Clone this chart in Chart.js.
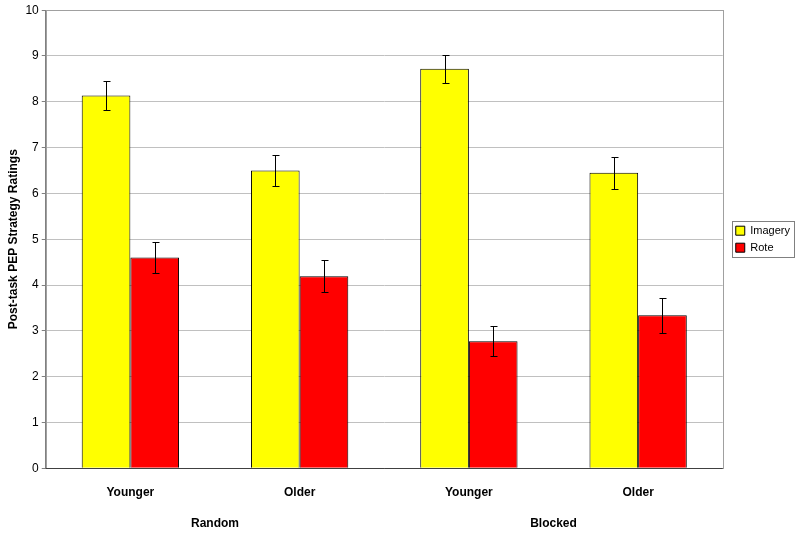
<!DOCTYPE html>
<html>
<head>
<meta charset="utf-8">
<script src="https://cdn.jsdelivr.net/npm/chart.js@4"></script>
<style>
  html, body { margin: 0; padding: 0; background: #fff; }
</style>
</head>
<body>
<canvas id="grafico" width="800" height="536"></canvas>
<script>
// datos
var grupos = ["Younger", "Older", "Younger", "Older"];
var condiciones = ["Random", "Blocked"];
var imagery = [8.14, 6.50, 8.72, 6.45];
var imageryErr = [0.32, 0.34, 0.31, 0.35];
var rote = [4.60, 4.19, 2.77, 3.34];
var roteErr = [0.34, 0.35, 0.33, 0.38];
var yTicks = [0, 1, 2, 3, 4, 5, 6, 7, 8, 9, 10];

var fuente = "'Liberation Sans', Arial, sans-serif";

// barras de error
var barrasError = {
  id: 'barrasError',
  afterDatasetsDraw: function (chart) {
    var ctx = chart.ctx;
    var y = chart.scales.y;
    var errores = [imageryErr, roteErr];
    ctx.save();
    ctx.strokeStyle = "#000";
    ctx.lineWidth = 1;
    chart.data.datasets.forEach(function (ds, d) {
      var meta = chart.getDatasetMeta(d);
      meta.data.forEach(function (bar, i) {
        var x = Math.round(bar.x) + 0.5;
        var top = Math.round(y.getPixelForValue(ds.data[i] + errores[d][i])) + 0.5;
        var bot = Math.round(y.getPixelForValue(ds.data[i] - errores[d][i])) + 0.5;
        ctx.beginPath();
        ctx.moveTo(x, top); ctx.lineTo(x, bot);
        ctx.moveTo(x - 3, top); ctx.lineTo(x + 4, top);
        ctx.moveTo(x - 3, bot); ctx.lineTo(x + 4, bot);
        ctx.stroke();
      });
    });
    ctx.restore();
  }
};

// marco del area del grafico y de la leyenda
var marcos = {
  id: 'marcos',
  beforeDatasetsDraw: function (chart) {
    var ctx = chart.ctx;
    var a = chart.chartArea;
    ctx.save();
    ctx.strokeStyle = "#a0a0a0";
    ctx.lineWidth = 1;
    ctx.strokeRect(Math.round(a.left) + 0.5, Math.round(a.top) + 0.5,
      Math.round(a.right - a.left), Math.round(a.bottom - a.top));
    ctx.restore();
  },
  afterDraw: function (chart) {
    var ctx = chart.ctx;
    var a = chart.chartArea;
    var cajas = chart.legend.legendHitBoxes;
    ctx.save();
    ctx.strokeStyle = "#404040";
    ctx.lineWidth = 1;
    ctx.beginPath();
    ctx.moveTo(a.left, Math.round(a.bottom) + 0.5);
    ctx.lineTo(a.right, Math.round(a.bottom) + 0.5);
    ctx.stroke();
    if (cajas && cajas.length) {
      var x0 = cajas[0].left - 4;
      var y0 = cajas[0].top - 4;
      var x1 = x0, y1 = y0;
      cajas.forEach(function (c) {
        x1 = Math.max(x1, c.left + c.width + 4);
        y1 = Math.max(y1, c.top + c.height + 4);
      });
      ctx.strokeStyle = "#808080";
      ctx.strokeRect(Math.round(x0) + 0.5, Math.round(y0) + 0.5,
        Math.round(x1 - x0), Math.round(y1 - y0));
    }
    ctx.restore();
  }
};

var myChart = new Chart(document.getElementById("grafico"), {
  type: 'bar',
  data: {
    labels: grupos,
    datasets: [
      {
        label: 'Imagery',
        data: imagery,
        xAxisID: 'x',
        yAxisID: 'y',
        backgroundColor: "#FFFF00",
        borderColor: "#000000",
        borderWidth: 1
      },
      {
        label: 'Rote',
        data: rote,
        xAxisID: 'x',
        yAxisID: 'y',
        backgroundColor: "#FF0000",
        borderColor: "#000000",
        borderWidth: 1
      }
    ]
  },
  options: {
    responsive: false,
    animation: false,
    devicePixelRatio: 1,
    categoryPercentage: 0.575,
    barPercentage: 1.0,
    layout: { padding: { left: 6, right: 0, top: 4, bottom: 5 } },
    plugins: {
      tooltip: { enabled: false },
      legend: {
        position: 'right',
        fullSize: false,
        labels: {
          boxWidth: 9,
          boxHeight: 9,
          padding: 6,
          color: "#000",
          font: { family: fuente, size: 11 }
        }
      }
    },
    scales: {
      x: {
        position: 'bottom',
        grid: { display: false, drawTicks: false },
        border: { display: false },
        ticks: {
          maxRotation: 0,
          padding: 17,
          color: "#000",
          font: { family: fuente, size: 12, weight: 'bold' }
        }
      },
      x2: {
        type: 'category',
        labels: condiciones,
        position: 'bottom',
        offset: true,
        grid: { display: false, drawTicks: false },
        border: { display: false },
        ticks: {
          maxRotation: 0,
          padding: 0,
          color: "#000",
          font: { family: fuente, size: 12, weight: 'bold' }
        }
      },
      y: {
        min: 0,
        max: 10,
        afterBuildTicks: function (axis) {
          axis.ticks = yTicks.map(function (v) { return { value: v }; });
        },
        grid: { color: "#c0c0c0", drawTicks: true, tickLength: 4, tickColor: "#808080" },
        border: { color: "#808080" },
        title: {
          display: true,
          text: 'Post-task PEP Strategy Ratings',
          color: "#000",
          padding: { top: 0, bottom: 2 },
          font: { family: fuente, size: 12, weight: 'bold' }
        },
        ticks: {
          padding: 3,
          color: "#000",
          font: { family: fuente, size: 12 }
        }
      },
      // separacion entre el grafico y la leyenda
      hueco: {
        type: 'linear',
        position: 'right',
        grid: { display: false, drawTicks: false },
        border: { display: false },
        ticks: { display: false },
        afterFit: function (axis) { axis.width = 7; }
      }
    }
  },
  plugins: [barrasError, marcos]
});
</script>
</body>
</html>
